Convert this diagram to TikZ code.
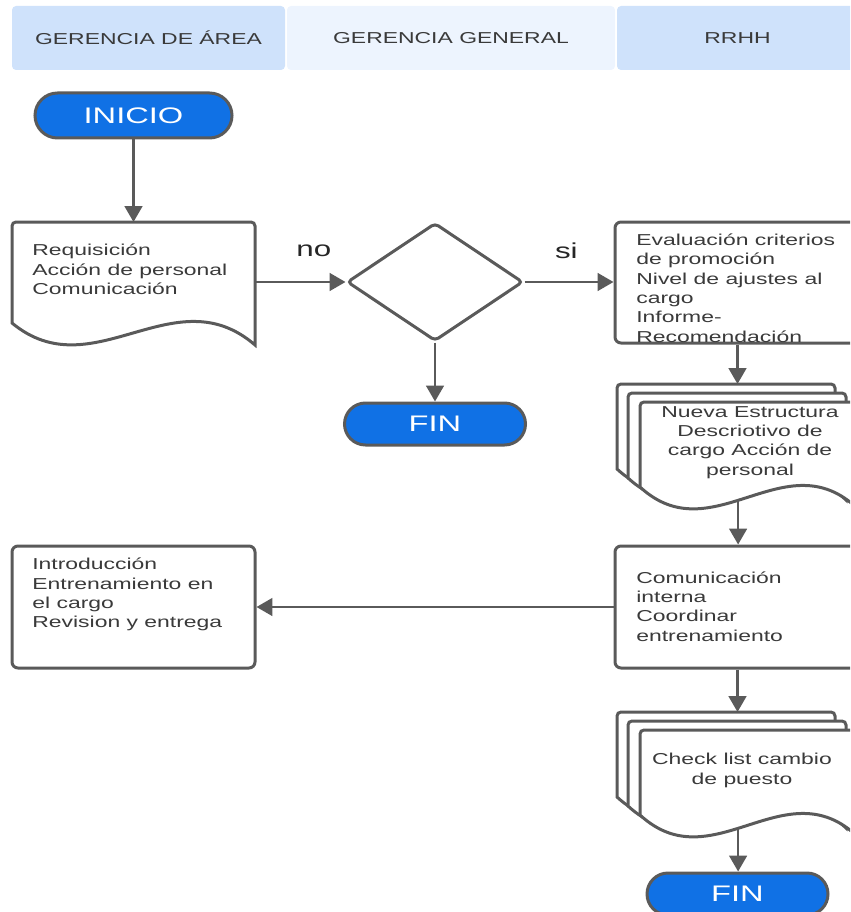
\documentclass[tikz,border=0pt]{standalone}
\usepackage{fontspec}
\setmainfont[FakeStretch=1.45]{Liberation Sans}
\usepackage{tikz}
\usetikzlibrary{arrows.meta,calc,positioning,shapes.geometric,shapes.misc}
\definecolor{flowline}{HTML}{5A5A5A}
\definecolor{flowtext}{HTML}{3A3A3A}
\definecolor{flowblue}{HTML}{1071E5}
\definecolor{lanemid}{HTML}{CFE2FB}
\definecolor{lanelight}{HTML}{EDF4FE}
\newlength\pxl
\setlength\pxl{0.02cm}

\tikzset{
 lane/.style={rectangle, rounded corners=4\pxl, minimum height=64\pxl, inner sep=0pt,
  text=flowtext, font=\fontsize{9}{11}\selectfont},
 term/.style={rounded rectangle, draw=flowline, line width=3\pxl, fill=flowblue,
  text=white, inner sep=0pt, font=\fontsize{12.8}{14}\selectfont},
 procbox/.style={rectangle, rounded corners=6\pxl, draw=flowline, line width=3\pxl,
  fill=white, inner sep=0pt},
 docbody/.style={rectangle, inner sep=0pt, outer sep=0pt},
 decide/.style={diamond, rounded corners=4\pxl, draw=flowline, line width=3\pxl,
  fill=white, inner sep=0pt},
 txt/.style={align=left, inner sep=0pt, text=flowtext, font=\fontsize{9}{11}\selectfont},
 lbl/.style={inner sep=0pt, text=black!85, font=\fontsize{12.3}{14}\selectfont},
 outline/.style={draw=flowline, line width=3\pxl, fill=white},
 arr/.style={draw=flowline, line width=2.5\pxl, -{Triangle[length=9pt,width=10pt]}},
}

% document sheet with wavy bottom; #1 body node, #2/#3 layer offset (px)
\newcommand\docoutline[3]{%
 \draw[outline] ($(#1.south west)+(#2,#3)$) [rounded corners=4\pxl]
  -- ($(#1.north west)+(#2,#3)$) -- ($(#1.north east)+(#2,#3)$) [sharp corners]
  -- ($(#1.south east)+(#2,#3+22)$)
  .. controls ($(#1.south west)!2/3!(#1.south east)+(#2,#3-48)$)
  and ($(#1.south west)!1/3!(#1.south east)+(#2,#3+67)$)
  .. coordinate[pos=.55] (#1-out) ($(#1.south west)+(#2,#3)$) -- cycle;
}

\begin{document}
\begin{tikzpicture}[x=0.02cm,y=-0.02cm]
% 1 unit = 1 px of the 850 x 912 sheet, y grows downwards
\useasboundingbox (0,0) rectangle (850,912);
\clip (0,0) rectangle (850,912);

% ── Lane headers ────────────────────────────────────────────
\node[lane, fill=lanemid, minimum width=273\pxl] (laneA) at (148.5,38) {GERENCIA DE ÁREA};
\node[lane, fill=lanelight, minimum width=328\pxl] (laneB) at (451,38) {GERENCIA GENERAL};
\node[lane, fill=lanemid, minimum width=241\pxl] (laneC) at (737.5,38) {RRHH};

% ── Start and request sheet ─────────────────────────────────
\node[term, minimum width=197\pxl, minimum height=45\pxl] (inicio) at (133.5,115.5) {INICIO};
\node[docbody, minimum width=243\pxl, minimum height=101\pxl] (req) at (133.5,272.5) {};
\docoutline{req}{0}{0}
\node[txt, anchor=west] (req-t) at (32,269.5)
 {Requisición\\Acción de personal\\Comunicación};

% ── Decision ────────────────────────────────────────────────
\node[decide, minimum width=176\pxl, minimum height=118\pxl] (dec) at (435,282) {};
\node[term, minimum width=181\pxl, minimum height=42\pxl] (fin1) at (435,424) {FIN};

% ── RRHH evaluation ─────────────────────────────────────────
\node[procbox, minimum width=245\pxl, minimum height=121\pxl] (eval) at (737.5,282.5) {};
\node[txt, anchor=west] (eval-t) at (636,288)
 {Evaluación criterios\\de promoción\\Nivel de ajustes al\\cargo\\Informe-\\Recomendación};

% ── Stack: nueva estructura ─────────────────────────────────
\node[docbody, minimum width=218\pxl, minimum height=85\pxl] (nueva) at (749,444.5) {};
\docoutline{nueva}{-23}{-18}
\docoutline{nueva}{-12}{-9}
\docoutline{nueva}{0}{0}
\coordinate (nueva-top) at ($(nueva.north)+(-23,-18)$);
\node[txt, align=center] (nueva-t) at (750,442.5)
 {Nueva Estructura\\Descriotivo de\\cargo Acción de\\personal};

% ── Communication and induction ─────────────────────────────
\node[procbox, minimum width=245\pxl, minimum height=122\pxl] (comm) at (737.5,607) {};
\node[txt, anchor=west] (comm-t) at (636,606.5)
 {Comunicación\\interna\\Coordinar\\entrenamiento};
\node[procbox, minimum width=243\pxl, minimum height=122\pxl] (intro) at (133.5,607) {};
\node[txt, anchor=west] (intro-t) at (32,594.5)
 {Introducción\\Entrenamiento en\\el cargo\\Revision y entrega};

% ── Stack: check list ───────────────────────────────────────
\node[docbody, minimum width=218\pxl, minimum height=85\pxl] (check) at (749,772.5) {};
\docoutline{check}{-23}{-18}
\docoutline{check}{-12}{-9}
\docoutline{check}{0}{0}
\coordinate (check-top) at ($(check.north)+(-23,-18)$);
\node[txt, align=center] (check-t) at (742,770.5) {Check list cambio\\de puesto};
\node[term, minimum width=181\pxl, minimum height=42\pxl] (fin2) at (737.5,894) {FIN};

% ── Connectors ──────────────────────────────────────────────
\draw[arr] (inicio.south) -- (req.north);
\draw[arr] (req.east |- dec.west) --
 node[lbl, pos=.65, yshift=31\pxl] (lbl-no) {no} (dec.west);
\draw[arr] (dec.south) -- (fin1.north);
\draw[arr] (dec.east) --
 node[lbl, pos=.47, yshift=31\pxl] (lbl-si) {si} (dec.east -| eval.west);
\draw[arr] (eval.south) -- (eval.south |- nueva-top);
\draw[arr] (nueva-out) -- (nueva-out |- comm.north);
\draw[arr] (comm.west) -- (comm.west -| intro.east);
\draw[arr] (comm.south) -- (comm.south |- check-top);
\draw[arr] (check-out) -- (check-out |- fin2.north);
\end{tikzpicture}
\end{document}
